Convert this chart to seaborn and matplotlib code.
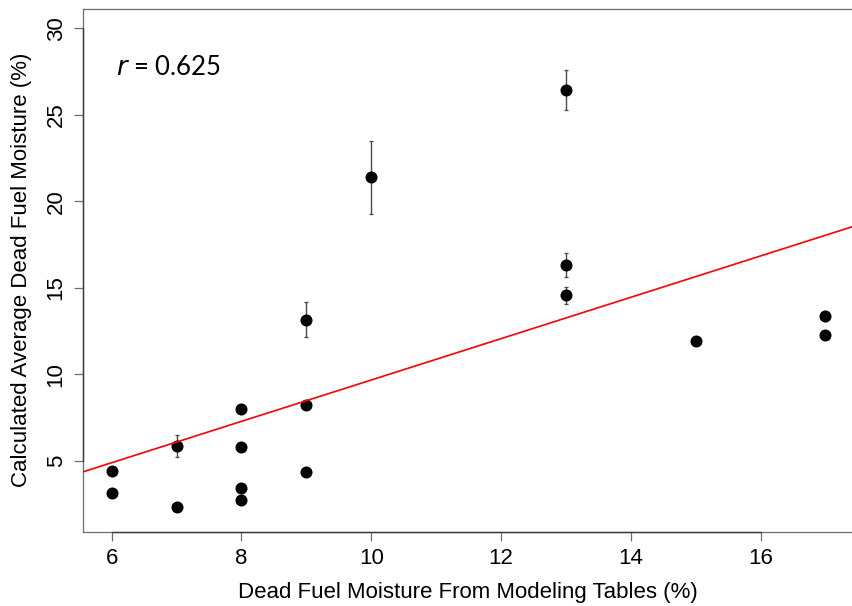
import numpy as np
import pandas as pd
import matplotlib
matplotlib.use("Agg")
import matplotlib.pyplot as plt
import matplotlib.transforms as mtransforms
import seaborn as sns

# Dead fuel moisture: table value vs. calculated average (with std. error)
table_moisture = [6, 6, 7, 7, 8, 8, 8, 8, 9, 9, 9, 10, 13, 13, 13, 15, 17, 17]
calc_moisture = [4.40, 3.13, 2.35, 5.85, 7.97, 5.79, 3.42, 2.73, 8.22, 4.33,
                 13.15, 21.38, 26.44, 16.31, 14.56, 11.94, 13.35, 12.27]
calc_error = [0.0, 0.0, 0.0, 0.61, 0.0, 0.22, 0.0, 0.0, 0.22, 0.0,
              1.02, 2.10, 1.17, 0.69, 0.48, 0.12, 0.30, 0.10]

x_ticks = [6, 8, 10, 12, 14, 16]
y_ticks = [5, 10, 15, 20, 25, 30]
x_label = "Dead Fuel Moisture From Modeling Tables (%)"
y_label = "Calculated Average Dead Fuel Moisture (%)"

df = pd.DataFrame({"table": table_moisture, "calc": calc_moisture, "err": calc_error})
r = np.corrcoef(df["table"], df["calc"])[0, 1]

sns.set_theme(style="white")
plt.rcParams["font.family"] = ["Liberation Sans", "DejaVu Sans"]

fig = plt.figure(figsize=(8.52, 6.06), dpi=100)
ax = fig.add_axes([0.0978, 0.1226, 0.9022, 0.8630])
ax.set_xlim(5.562, 17.41)
ax.set_ylim(0.896, 31.13)

axis_grey = "#6e6e6e"

# error bars
has_err = df[df["err"] > 0]
ax.errorbar(has_err["table"], has_err["calc"], yerr=has_err["err"], fmt="none",
            ecolor="#4a4a4a", elinewidth=1.0, capsize=1.6, capthick=0.9, zorder=2)

# points
sns.scatterplot(data=df, x="table", y="calc", ax=ax, color="black", s=75,
                edgecolor="black", linewidth=0, zorder=3, legend=False)

# least-squares fit across the full axis
sns.regplot(data=df, x="table", y="calc", ax=ax, scatter=False, ci=None,
            truncate=False, line_kws=dict(color="red", lw=1.2, zorder=4))
ax.set_xlim(5.562, 17.41)
ax.set_ylim(0.896, 31.13)

ax.text(0.043, 0.887, r"$\it{r}$" + f" = {r:.3f}", transform=ax.transAxes,
        fontsize=18.5, family=["Lato", "DejaVu Sans"], ha="left", va="center",
        color="black")

# axes frame
for side in ["left", "bottom", "top"]:
    ax.spines[side].set_color(axis_grey)
    ax.spines[side].set_linewidth(0.9)
ax.spines["right"].set_visible(False)

# axis lines spanning first to last tick
bt = mtransforms.blended_transform_factory(ax.transData, ax.transAxes)
ax.plot([x_ticks[0], x_ticks[-1]], [0, 0], transform=bt, color="#3a3a3a",
        lw=1.0, clip_on=False, zorder=5)
lt = mtransforms.blended_transform_factory(ax.transAxes, ax.transData)
ax.plot([0, 0], [y_ticks[0], y_ticks[-1]], transform=lt, color="#3a3a3a",
        lw=1.0, clip_on=False, zorder=5)

ax.set_xticks(x_ticks)
ax.set_yticks(y_ticks)
ax.set_xticklabels([str(v) for v in x_ticks])
ax.set_yticklabels([str(v) for v in y_ticks], rotation=90, va="center")
ax.tick_params(axis="both", which="major", direction="out", length=6.5,
               width=0.9, color=axis_grey, labelsize=16, labelcolor="black",
               bottom=True, left=True)
ax.tick_params(axis="x", pad=5.5)
ax.tick_params(axis="y", pad=5.5)

ax.set_xlabel(x_label, fontsize=16, color="black", labelpad=9)
ax.set_ylabel(y_label, fontsize=16, color="black", labelpad=10)
ax.grid(False)

fig.savefig("out.png", dpi=100)
